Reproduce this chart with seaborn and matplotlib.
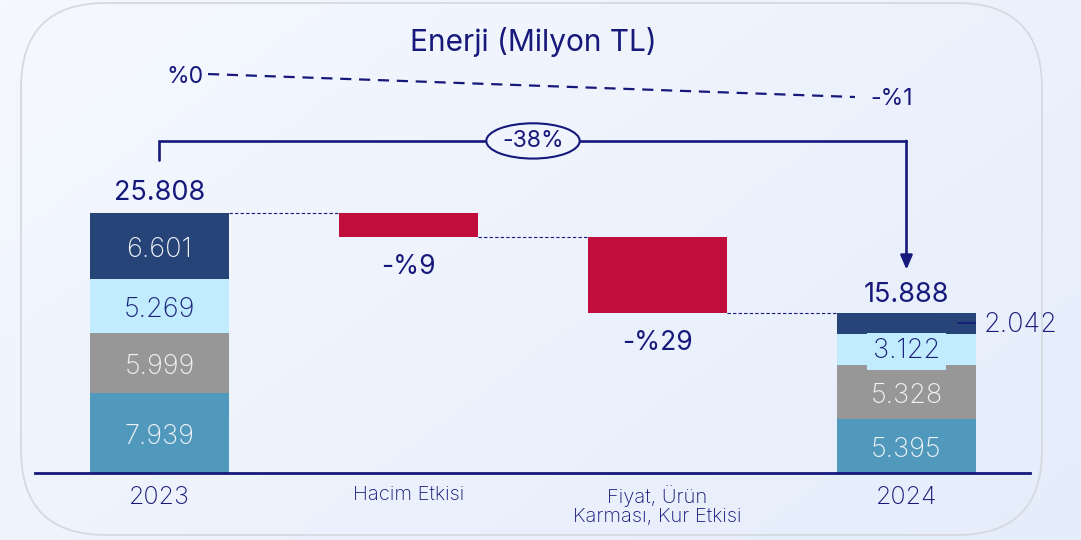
import numpy as np
import pandas as pd
import matplotlib
matplotlib.use("Agg")
import matplotlib.pyplot as plt
import seaborn as sns
from matplotlib.patches import FancyBboxPatch, Ellipse
from matplotlib.colors import LinearSegmentedColormap

# ---------------- data ----------------
categories = ["2023", "Hacim Etkisi", "Fiyat, Ürün\nKarması, Kur Etkisi", "2024"]
segments_2023 = [7.939, 5.999, 5.269, 6.601]   # bottom -> top
segments_2024 = [5.395, 5.328, 3.122, 2.042]   # bottom -> top
segment_labels_2023 = ["7.939", "5.999", "5.269", "6.601"]
segment_labels_2024 = ["5.395", "5.328", "3.122", "2.042"]
changes = [-2.37, -7.55]
change_labels = ["-%9", "-%29"]
total_labels = ["25.808", "15.888"]
margin_labels = ["%0", "-%1"]
overall_change = "-38%"
title = "Enerji (Milyon TL)"

# ---------------- styles ----------------
segment_colors = ["#5199BC", "#979797", "#C0ECFD", "#264478"]
segment_text_colors = ["#F2F4F8", "#F2F4F8", "#1B1F7A", "#F2F4F8"]
red = "#C00D3C"
navy = "#16187A"

sns.set_theme(style="white")
plt.rcParams["font.family"] = ["Inter", "DejaVu Sans"]

W, H = 1081, 540
fig = plt.figure(figsize=(W / 100, H / 100), dpi=100)

# background gradient
bg = fig.add_axes([0, 0, 1, 1], zorder=-10)
xx, yy = np.meshgrid(np.linspace(0, 1, 200), np.linspace(0, 1, 100))
grad = (xx * 0.6 + yy * 0.4)
cmap = LinearSegmentedColormap.from_list("bg", ["#F5F8FE", "#E5EDFB"])
bg.imshow(grad, extent=[0, 1, 0, 1], aspect="auto", cmap=cmap, origin="upper")
bg.axis("off")

card = FancyBboxPatch((21, H - 535), 1021, 532,
                      boxstyle="round,pad=0,rounding_size=85",
                      transform=None, fill=False, edgecolor="#D6D9E0", lw=1.3)
fig.add_artist(card)

ax = fig.add_axes([35 / W, 67 / H, 995 / W, 473 / H])
ax.patch.set_alpha(0)

n = len(categories)
totals = [sum(segments_2023), sum(segments_2024)]
running = [totals[0]]
for c in changes:
    running.append(running[-1] + c)

bw = 0.56
bottom_acc = np.zeros(n)
for k in range(len(segments_2023)):
    vals = np.array([segments_2023[k], 0.0, 0.0, segments_2024[k]])
    df = pd.DataFrame({"cat": categories, "val": vals})
    sns.barplot(data=df, x="cat", y="val", order=categories, color=segment_colors[k],
                saturation=1, width=bw, errorbar=None, bottom=bottom_acc.copy(),
                linewidth=0, ax=ax)
    bottom_acc += vals

# floating change bars
ch_heights = np.array([0.0] + [-c for c in changes] + [0.0])
ch_bottoms = np.array([0.0] + running[1:3] + [0.0])
dfc = pd.DataFrame({"cat": categories, "val": ch_heights})
sns.barplot(data=dfc, x="cat", y="val", order=categories, color=red, saturation=1,
            width=bw, errorbar=None, bottom=ch_bottoms, linewidth=0, ax=ax)

# segment labels
SEG_FS = 19.5
DY = -0.4  # small optical offset for vertical centering
def seg_labels(xi, segs, labels):
    b = 0
    for k, (v, lab) in enumerate(zip(segs, labels)):
        y = b + v / 2
        if xi == 3 and k == 3:
            ax.plot([xi + 0.205, xi + 0.277], [y, y], color=navy, lw=1.2)
            ax.text(xi + 0.31, y + DY * 0.5, lab, ha="left", va="center", fontsize=SEG_FS,
                    color=navy, fontweight="light")
        elif xi == 3 and k == 2:
            ax.text(xi, y + DY * 0.5, lab, ha="center", va="center", fontsize=SEG_FS,
                    color=segment_text_colors[k], fontweight="light", zorder=4,
                    bbox=dict(boxstyle="square,pad=0.2", fc=segment_colors[k], ec="none"))
        else:
            ax.text(xi, y + DY, lab, ha="center", va="center", fontsize=SEG_FS,
                    color=segment_text_colors[k], fontweight="light")
        b += v

seg_labels(0, segments_2023, segment_labels_2023)
seg_labels(3, segments_2024, segment_labels_2024)

# total labels
ax.text(0, totals[0] + 2.0, total_labels[0], ha="center", va="center", fontsize=19.5, color=navy)
ax.text(3, totals[1] + 1.8, total_labels[1], ha="center", va="center", fontsize=19.5, color=navy)

# change labels
for i, (lab, r) in enumerate(zip(change_labels, running[1:3])):
    ax.text(i + 1, r - 2.95, lab, ha="center", va="center", fontsize=19, color=navy)

# connectors
levels = [running[0], running[1], running[2]]
for i, lv in enumerate(levels):
    ax.plot([i + bw / 2, i + 1 - bw / 2], [lv, lv], color=navy, lw=0.8,
            ls=(0, (3, 2)))

# bracket with arrow
yb = 32.96
ax.plot([0, 0, 3, 3], [31.07, yb, yb, yb], color=navy, lw=1.9,
        solid_joinstyle="miter", clip_on=False)
ax.annotate("", xy=(3, totals[1] + 4.3), xytext=(3, yb),
            arrowprops=dict(arrowstyle="-|>,head_length=0.7,head_width=0.3",
                            color=navy, lw=1.9, shrinkA=0, shrinkB=0))
ell = Ellipse((1.5, yb), 0.375, 3.5, facecolor="#EFF4FD", edgecolor=navy, lw=1.5, zorder=5)
ax.add_patch(ell)
ax.text(1.5, yb, overall_change, ha="center", va="center", fontsize=16.5, color=navy, zorder=6)

# margin dashed line
ax.plot([0.195, 2.793], [39.6, 37.32], color=navy, lw=1.6, ls=(0, (5, 3.5)))
ax.text(0.102, 39.3, margin_labels[0], ha="center", va="center", fontsize=16.5, color=navy)
ax.text(2.94, 37.1, margin_labels[1], ha="center", va="center", fontsize=16.5, color=navy)

# axes styling
ax.set_xlim(-0.5, 3.496)
ax.set_ylim(0, 46.95)
ax.set_yticks([])
ax.set_xlabel("")
ax.set_ylabel("")
for s in ["top", "right", "left"]:
    ax.spines[s].set_visible(False)
ax.spines["bottom"].set_color(navy)
ax.spines["bottom"].set_linewidth(2)
ax.tick_params(axis="x", length=0, pad=9, colors=navy)
sizes = [18, 14.5, 14.5, 18]
for lbl, s in zip(ax.get_xticklabels(), sizes):
    lbl.set_fontsize(s)
    lbl.set_color(navy)
    lbl.set_fontweight("light")
    lbl.set_linespacing(1.05)

fig.text(533 / W, 1 - 42 / H, title, ha="center", va="center", fontsize=21.5, color=navy)

fig.savefig("out.png", dpi=100)
